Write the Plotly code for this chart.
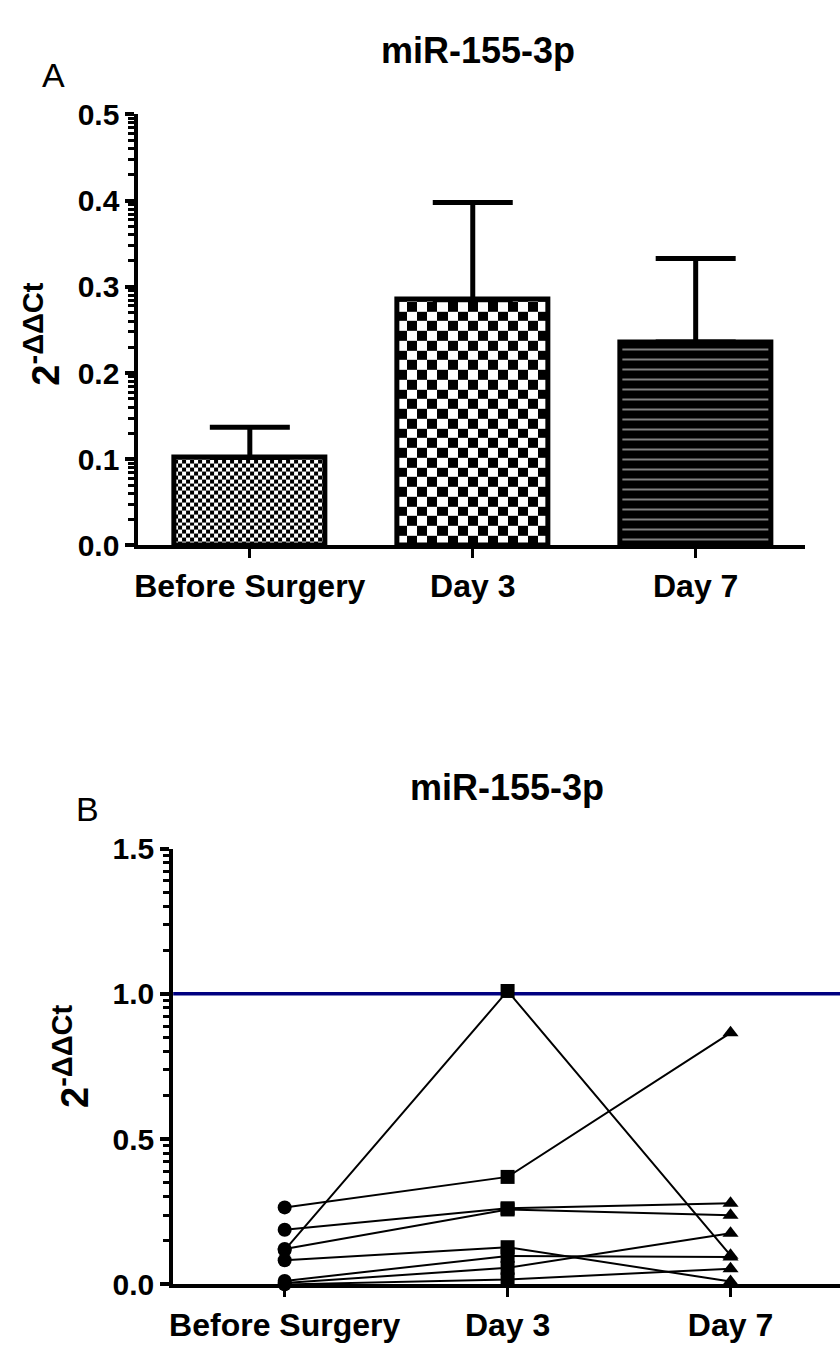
import math
import plotly.graph_objects as go

# ---- data -------------------------------------------------------------
groups = ["Before Surgery", "Day 3", "Day 7"]

# panel A: mean and upper SEM
mean_expr = [0.102, 0.285, 0.236]
sem_expr = [0.035, 0.113, 0.097]

# panel B: individual patients (Before Surgery, Day 3, Day 7)
patient_1 = [0.265, 0.37, 0.866]
patient_2 = [0.188, 0.262, 0.279]
patient_3 = [0.122, 0.258, 0.238]
patient_4 = [0.118, 1.01, 0.1]
patient_5 = [0.083, 0.128, 0.01]
patient_6 = [0.012, 0.098, 0.094]
patient_7 = [0.005, 0.057, 0.176]
patient_8 = [0.0, 0.017, 0.054]
patients = [patient_1, patient_2, patient_3, patient_4,
            patient_5, patient_6, patient_7, patient_8]
reference_level = 1.0

yticks_a = [0.0, 0.1, 0.2, 0.3, 0.4, 0.5]
yticks_b = [0.0, 0.5, 1.0, 1.5]

# ---- geometry ---------------------------------------------------------
W, H = 840, 1356
FONT = "Liberation Sans, Arial, sans-serif"
BAR_W = 0.68
PX_PER_CAT = 224.0

# panel A plot box (pixels)
A_LEFT, A_RIGHT, A_TOP, A_BOT = 135, 805, 100, 542
# panel B plot box (pixels)
B_LEFT, B_TOP, B_BOT = 170, 853, 1300


def fx(px):
    return px / W


def fy(py):
    return 1 - py / H


def log_minor(majors):
    vals = []
    for a, b in zip(majors[:-1], majors[1:]):
        d = b - a
        vals += [a + d * math.log10(k) for k in range(2, 10)]
    return vals


x_pos = list(range(len(groups)))
fig = go.Figure()

# checkerboard fills for the first two bars
a_px_per_unit = (A_BOT - A_TOP) / 0.5
cell_px = [4.0, 10.0]
for i, cpx in enumerate(cell_px):
    xc = x_pos[i]
    w_px = BAR_W * PX_PER_CAT
    ncol = max(1, round(w_px / cpx))
    dx = BAR_W / ncol
    xe = [xc - BAR_W / 2 + k * dx for k in range(ncol + 1)]
    dy = cpx / a_px_per_unit
    nrow = math.ceil(mean_expr[i] / dy)
    ye = [min(k * dy, mean_expr[i]) for k in range(nrow + 1)]
    z = [[(r + c) % 2 for c in range(ncol)] for r in range(nrow)]
    fig.add_trace(go.Heatmap(
        x=xe, y=ye, z=z, zmin=0, zmax=1,
        colorscale=[[0, "white"], [1, "black"]], showscale=False,
        hoverinfo="skip", xaxis="x", yaxis="y"))

fig.add_trace(go.Bar(
    x=x_pos, y=mean_expr, width=BAR_W,
    marker=dict(
        color=["rgba(0,0,0,0)", "rgba(0,0,0,0)", "black"],
        line=dict(color="black", width=5),
        pattern=dict(shape=["", "", "-"], fgcolor="white",
                     bgcolor="black", size=10, solidity=0.2),
    ),
    error_y=dict(type="data", symmetric=False, array=sem_expr,
                 arrayminus=[0] * len(sem_expr), color="black",
                 thickness=5, width=40),
    xaxis="x", yaxis="y", showlegend=False))

symbols = ["circle", "square", "triangle-up"]
for p in patients:
    fig.add_trace(go.Scatter(
        x=x_pos, y=p, mode="lines+markers",
        line=dict(color="black", width=2),
        marker=dict(symbol=symbols, size=14, color="black"),
        cliponaxis=False, showlegend=False, xaxis="x2", yaxis="y2"))

fig.add_shape(type="line", xref="x2 domain", yref="y2", x0=0, x1=1,
              y0=reference_level, y1=reference_level,
              line=dict(color="#000080", width=3.5), layer="below")

tickfont = dict(family=FONT, size=30, color="black", weight="bold")
xtickfont = dict(family=FONT, size=32, color="black", weight="bold")

common_x = dict(tickvals=x_pos, ticktext=groups, ticks="outside", ticklen=9,
                tickwidth=3, tickcolor="black", showline=True, linewidth=4,
                linecolor="black", showgrid=False, zeroline=False,
                tickfont=xtickfont, fixedrange=True)


def yaxis_style(ticks, rng, domain):
    return dict(range=rng, domain=domain, tickvals=ticks,
                ticktext=[f"{t:.1f}" for t in ticks], ticks="outside",
                ticklen=9, tickwidth=4, tickcolor="black", showline=True,
                linewidth=4, linecolor="black", showgrid=False,
                zeroline=False, tickfont=tickfont,
                minor=dict(tickmode="array", tickvals=log_minor(ticks),
                           ticks="outside", ticklen=6, tickwidth=2.5,
                           tickcolor="black", showgrid=False))


b_right_val = (W - B_LEFT) / PX_PER_CAT - 0.5
a_right_val = (A_RIGHT - A_LEFT) / PX_PER_CAT - 0.5
fig.update_layout(
    width=W, height=H, margin=dict(l=0, r=0, t=0, b=0),
    paper_bgcolor="white", plot_bgcolor="white", showlegend=False,
    xaxis=dict(common_x, domain=[fx(A_LEFT), fx(A_RIGHT)],
               range=[-0.5, a_right_val], anchor="y"),
    yaxis=dict(yaxis_style(yticks_a, [0, 0.5], [fy(A_BOT), fy(A_TOP)]),
               anchor="x"),
    xaxis2=dict(common_x, domain=[fx(B_LEFT), 1.0],
                range=[-0.5, b_right_val], anchor="y2"),
    yaxis2=dict(yaxis_style(yticks_b, [0, 1.5], [fy(B_BOT), fy(B_TOP)]),
                anchor="x2"),
    bargap=0,
)

title_font = dict(family=FONT, size=36, color="black", weight="bold")
letter_font = dict(family=FONT, size=34, color="black")
ytitle = ("<b>2<sup><span style='font-size:29px'>-ΔΔCt</span></sup></b>")
ytitle_font = dict(family=FONT, size=38, color="black")
annos = [
    dict(text="miR-155-3p", x=fx(476), y=fy(34), font=title_font),
    dict(text="miR-155-3p", x=fx(505), y=fy(790), font=title_font),
    dict(text="A", x=fx(50), y=fy(60), font=letter_font),
    dict(text="B", x=fx(84), y=fy(812), font=letter_font),
    dict(text=ytitle, x=fx(38), y=fy(325), textangle=-90, font=ytitle_font),
    dict(text=ytitle, x=fx(68), y=fy(1066), textangle=-90, font=ytitle_font),
]
for a in annos:
    fig.add_annotation(xref="paper", yref="paper", showarrow=False,
                       xanchor="center", yanchor="middle", **a)

fig.write_html("out.html")
